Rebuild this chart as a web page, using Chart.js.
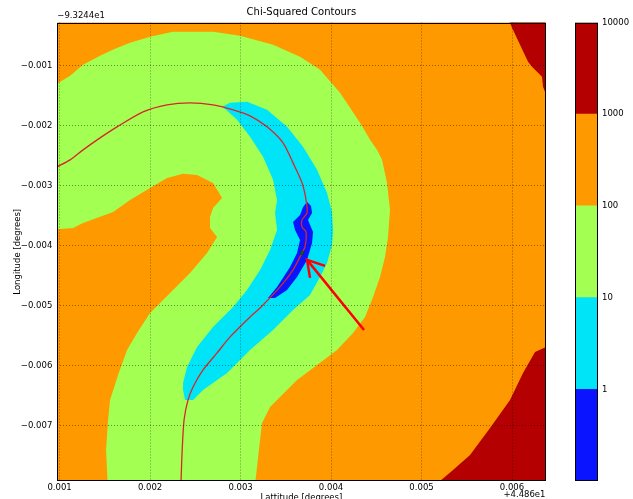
<!DOCTYPE html>
<html>
<head>
<meta charset="utf-8">
<script src="https://cdn.jsdelivr.net/npm/chart.js@4/dist/chart.umd.min.js"></script>
<style>
  html, body { margin: 0; padding: 0; background: #fff; }
  #wrap { position: relative; width: 633px; height: 499px; overflow: hidden; }
  #main { position: absolute; left: 0; top: 0; }
  #cbar { position: absolute; left: 575px; top: 0; }
</style>
</head>
<body>
<div id="wrap">
  <canvas id="main" width="633" height="499"></canvas>
  <canvas id="cbar" width="58" height="499"></canvas>
</div>
<script>
// ---------------- data (offsets from 44.86 lat / -93.244 lon, degrees) ----------------
const xTicks = [0.001, 0.002, 0.003, 0.004, 0.005, 0.006];
const yTicks = [-0.001, -0.002, -0.003, -0.004, -0.005, -0.006, -0.007];
const xRange = [0.000975, 0.00637];
const yRange = [-0.007917, -0.000278];

const levelBounds = [0.1, 1, 10, 100, 1000, 10000];
const levelTicks = [1, 10, 100, 1000, 10000];
const levelColors = ['#0a14ff', '#00e4f8', '#a3ff52', '#ff9900', '#b40000'];

// chi-squared 100..1000 (whole field)
const band100to1000 = [[0.0009, -0.0002], [0.0065, -0.0002], [0.0065, -0.0081], [0.0009, -0.0081]];
// chi-squared 10..100 (horseshoe)
const band10to100 = [
  [0.0009, -0.0013667], [0.0011160, -0.0011667], [0.0012597, -0.0009833], [0.0014475, -0.0008333],
  [0.0016133, -0.0007167], [0.0017790, -0.0006167], [0.0020000, -0.0005167], [0.0022541, -0.0004333],
  [0.0025525, -0.0004333], [0.0026961, -0.0004333], [0.0029945, -0.0005], [0.0033591, -0.00065],
  [0.0036575, -0.00085], [0.0038785, -0.0010667], [0.0040994, -0.00145], [0.0042099, -0.0017],
  [0.0043204, -0.00195], [0.0044309, -0.0022333], [0.0045083, -0.0024], [0.0045635, -0.0025667],
  [0.0046188, -0.00295], [0.0046519, -0.0034], [0.0046298, -0.00385], [0.0045967, -0.0041833],
  [0.0045414, -0.0045167], [0.0044641, -0.00485], [0.0043757, -0.0051833], [0.0042431, -0.00545],
  [0.0040663, -0.0057333], [0.0036243, -0.0062333], [0.0033260, -0.0066833], [0.0032376, -0.00695],
  [0.0032155, -0.0072333], [0.0031823, -0.0076833], [0.0031500, -0.0081], [0.0009, -0.0081]
];
// chi-squared 100..1000 inside the horseshoe
const band100to1000Inner = [
  [0.0009, -0.0037333], [0.0011492, -0.0037], [0.0012597, -0.0036167], [0.0015912, -0.0034333],
  [0.0017790, -0.0032333], [0.0020000, -0.0030333], [0.0021878, -0.0028667], [0.0023646, -0.0028],
  [0.0025193, -0.0028167], [0.0026961, -0.00295], [0.0027956, -0.0032], [0.0026961, -0.0033667],
  [0.0026630, -0.0035167], [0.0026630, -0.0037], [0.0027403, -0.00385], [0.0026298, -0.0041167],
  [0.0024420, -0.00445], [0.0022210, -0.0047833], [0.0020000, -0.0051167], [0.0018564, -0.00545],
  [0.0017459, -0.0057333], [0.0016464, -0.00615], [0.0015580, -0.0065667], [0.0015359, -0.0069],
  [0.0015138, -0.0074], [0.0015359, -0.0081], [0.0009, -0.0081]
];
// chi-squared 1..10
const band1to10 = [
  [0.0027956, -0.0016833], [0.0028840, -0.0016167], [0.0030718, -0.0016], [0.0032928, -0.0017333],
  [0.0035138, -0.0020167], [0.0036906, -0.00235], [0.0038453, -0.0027333], [0.0039558, -0.0031167],
  [0.0040111, -0.0034333], [0.0040221, -0.0037333], [0.0040111, -0.0039833], [0.0039558, -0.0042833],
  [0.0038785, -0.0045167], [0.0037680, -0.0048167], [0.0035801, -0.0050667], [0.0033591, -0.0054],
  [0.0031050, -0.0057333], [0.0028508, -0.0061167], [0.0025856, -0.0064], [0.0024751, -0.0065667],
  [0.0023867, -0.0065667], [0.0023646, -0.0064], [0.0023646, -0.0062833], [0.0024088, -0.0060167],
  [0.0025193, -0.0056833], [0.0026961, -0.00535], [0.0029171, -0.0050167], [0.0030718, -0.0047333],
  [0.0032155, -0.0044], [0.0033260, -0.0040667], [0.0034033, -0.0037333], [0.0033812, -0.00345],
  [0.0034033, -0.0032333], [0.0033591, -0.0029], [0.0032486, -0.0025167], [0.0031050, -0.0021833],
  [0.0029613, -0.0019], [0.0028398, -0.0017333]
];
// chi-squared < 1
const band0to1 = [
  [0.0037348, -0.0032667], [0.0037790, -0.0033333], [0.0037901, -0.00345], [0.0037458, -0.0035667],
  [0.0038011, -0.0037667], [0.0037901, -0.00395], [0.0037348, -0.0042333], [0.0036243, -0.0045167],
  [0.0035138, -0.0047333], [0.0033812, -0.0048667], [0.0033039, -0.0048667], [0.0034033, -0.0046833],
  [0.0035470, -0.00435], [0.0036243, -0.0041167], [0.0036575, -0.0039], [0.0036022, -0.0037333],
  [0.0035801, -0.0036], [0.0036575, -0.0034833], [0.0036906, -0.00335]
];
// chi-squared 1000..10000
const band1000to10000Top = [
  [0.0059558, -0.0002], [0.0065, -0.0002], [0.0065, -0.0014333], [0.0063646, -0.0014333],
  [0.0063425, -0.00135], [0.0063315, -0.0011833], [0.0062873, -0.0011167], [0.0062210, -0.0010167],
  [0.0061768, -0.0009333], [0.0060884, -0.00065], [0.0060000, -0.0003667]
];
const band1000to10000Bottom = [
  [0.0051800, -0.0081], [0.0052044, -0.0079167], [0.0053481, -0.0077333], [0.0055359, -0.0074833],
  [0.0057569, -0.0070333], [0.0059779, -0.0065667], [0.0061215, -0.0061167], [0.0062541, -0.0057667],
  [0.0065, -0.0056], [0.0065, -0.0081]
];
// fitted track
const trackLat = [0.000972, 0.0011160, 0.0012597, 0.0014475, 0.0016354, 0.0019226, 0.0021878, 0.0024420,
  0.0026961, 0.0029171, 0.0031050, 0.0032928, 0.0034696, 0.0035801, 0.0036796, 0.0037238, 0.0037348,
  0.0036796, 0.0036796, 0.0037238, 0.0037127, 0.0036796, 0.0035801, 0.0034365, 0.0032155, 0.0031050,
  0.0028840, 0.0027403, 0.0025856, 0.0024751, 0.0024199, 0.0023757, 0.0023536, 0.0023426];
const trackLon = [-0.0026833, -0.0025667, -0.0024, -0.0022, -0.0020167, -0.0017667, -0.00165, -0.0016167,
  -0.00165, -0.0017333, -0.0018333, -0.0020167, -0.0022833, -0.0026167, -0.00295, -0.0032333, -0.00345,
  -0.0035667, -0.0036833, -0.0037667, -0.0040167, -0.0041167, -0.0044, -0.0046833, -0.0050333, -0.0051833,
  -0.0055167, -0.0057833, -0.0060667, -0.00635, -0.0065667, -0.0069, -0.00745, -0.0079167];
// best-fit point and arrow
const bestFit = [0.0036796, -0.0041167];
const arrowShaft = [[0.0043646, -0.0054], [0.0037348, -0.0042333]];
const arrowHead = [[0.0039337, -0.0043333], [0.0037348, -0.0042333], [0.0037680, -0.0045333]];

// ---------------- helpers ----------------
const FONT = 'DejaVu Sans';
const toXY = arr => arr.map(p => ({ x: p[0], y: p[1] }));
function region(points, color, order) {
  return {
    data: toXY(points), showLine: true, fill: 'shape', backgroundColor: color,
    borderColor: 'rgba(0,0,0,0)', borderWidth: 0, pointRadius: 0, pointHoverRadius: 0,
    tension: 0, order: order
  };
}
const fmt = v => (v < 0 ? '\u2212' : '') + Math.abs(v).toFixed(3);

const framePlugin = {
  id: 'frame',
  afterDraw(chart) {
    const { ctx, chartArea: a } = chart;
    ctx.save();
    ctx.strokeStyle = '#000';
    ctx.lineWidth = 1;
    ctx.strokeRect(Math.round(a.left) + 0.5, Math.round(a.top) + 0.5,
      Math.round(a.right) - Math.round(a.left) - 1, Math.round(a.bottom) - Math.round(a.top) - 1);
    if (chart.canvas.id === 'main') {
      ctx.fillStyle = '#000';
      ctx.font = '8.5px "' + FONT + '"';
      ctx.textBaseline = 'middle';
      ctx.textAlign = 'left';
      ctx.fillText('\u22129.3244e1', a.left, 16);
      ctx.textAlign = 'right';
      ctx.fillText('+4.486e1', a.right, 495);
    }
    ctx.restore();
  }
};

// ---------------- main contour chart ----------------
new Chart(document.getElementById('main'), {
  type: 'scatter',
  data: {
    datasets: [
      region(band100to1000, levelColors[3], 100),
      region(band10to100, levelColors[2], 90),
      region(band100to1000Inner, levelColors[3], 80),
      region(band1to10, levelColors[1], 70),
      region(band0to1, levelColors[0], 60),
      region(band1000to10000Top, levelColors[4], 50),
      region(band1000to10000Bottom, levelColors[4], 50),
      {
        data: trackLat.map((x, i) => ({ x: x, y: trackLon[i] })), showLine: true, fill: false,
        borderColor: '#d8262a', borderWidth: 1.3, pointRadius: 0, tension: 0.25,
        capBezierPoints: false, order: 10
      },
      {
        data: toXY(arrowShaft), showLine: true, fill: false, borderColor: '#ff0000',
        borderWidth: 2.5, pointRadius: 0, tension: 0, order: 5
      },
      {
        data: toXY(arrowHead), showLine: true, fill: false, borderColor: '#ff0000',
        borderWidth: 2.5, pointRadius: 0, tension: 0, order: 5, borderJoinStyle: 'miter'
      },
      {
        data: [{ x: bestFit[0], y: bestFit[1] }], showLine: false, pointStyle: 'rect',
        pointRadius: 2, backgroundColor: '#106a10', borderColor: '#004000', borderWidth: 0.5, order: 1
      }
    ]
  },
  options: {
    responsive: false,
    animation: false,
    events: [],
    devicePixelRatio: 1,
    layout: { padding: { top: 0, right: 87.5, bottom: 0, left: 0 } },
    plugins: {
      legend: { display: false },
      tooltip: { enabled: false },
      title: {
        display: true, text: 'Chi-Squared Contours', fullSize: false, color: '#000',
        font: { family: FONT, size: 10, weight: 'normal' }, padding: { top: 6, bottom: 4.5 }
      }
    },
    scales: {
      x: {
        type: 'linear', min: xRange[0], max: xRange[1],
        afterBuildTicks: s => { s.ticks = xTicks.map(v => ({ value: v })); },
        afterFit: s => { s.height = 18; },
        ticks: { callback: v => fmt(v), color: '#000', font: { family: FONT, size: 8.5 }, padding: 2, maxRotation: 0 },
        grid: { z: 1, color: 'rgba(0,0,0,0.42)', lineWidth: 1, drawTicks: false },
        border: { display: false, dash: [1, 2] },
        title: { display: true, text: 'Lattitude [degrees]', color: '#000',
          font: { family: FONT, size: 8.5 }, padding: { top: 0, bottom: -4 } }
      },
      y: {
        type: 'linear', min: yRange[0], max: yRange[1],
        afterBuildTicks: s => { s.ticks = yTicks.map(v => ({ value: v })); },
        afterFit: s => { s.width = 57.3; },
        ticks: { callback: v => fmt(v), color: '#000', font: { family: FONT, size: 8.5 }, padding: 5 },
        grid: { z: 1, color: 'rgba(0,0,0,0.42)', lineWidth: 1, drawTicks: false },
        border: { display: false, dash: [1, 2] },
        title: { display: true, text: 'Longitude [degrees]', color: '#000',
          font: { family: FONT, size: 8.5 }, padding: { top: 12.5, bottom: 0 } }
      }
    }
  },
  plugins: [framePlugin]
});

// ---------------- colour bar ----------------
new Chart(document.getElementById('cbar'), {
  type: 'bar',
  data: {
    labels: [''],
    datasets: levelColors.map((c, i) => ({
      data: [[levelBounds[i], levelBounds[i + 1]]], backgroundColor: c, borderWidth: 0,
      grouped: false, barPercentage: 1, categoryPercentage: 1
    }))
  },
  options: {
    responsive: false,
    animation: false,
    events: [],
    devicePixelRatio: 1,
    layout: { padding: { top: 22.5, bottom: 18, left: 0, right: 0 } },
    plugins: { legend: { display: false }, tooltip: { enabled: false } },
    scales: {
      x: { display: false },
      y: {
        type: 'logarithmic', position: 'right', min: levelBounds[0], max: levelBounds[5],
        afterBuildTicks: s => { s.ticks = levelTicks.map(v => ({ value: v })); },
        afterFit: s => { s.width = 35; },
        ticks: { callback: v => String(v), color: '#000', font: { family: FONT, size: 8.5 }, padding: 4 },
        grid: { display: false, drawTicks: false },
        border: { display: false }
      }
    }
  },
  plugins: [framePlugin]
});
</script>
</body>
</html>
